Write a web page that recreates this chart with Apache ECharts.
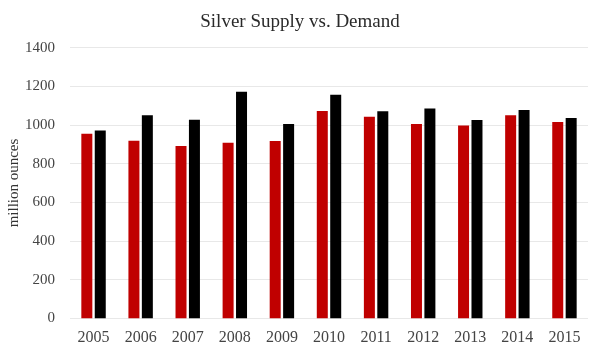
<!DOCTYPE html>
<html><head><meta charset="utf-8">
<script src="https://cdn.jsdelivr.net/npm/echarts@6/dist/echarts.min.js"></script>
<style>html,body{margin:0;padding:0;background:#fff}#c{width:600px;height:359px}</style>
</head><body><div id="c"></div>
<script>
const years = ['2005','2006','2007','2008','2009','2010','2011','2012','2013','2014','2015'];
const supply = [955, 919, 891, 908, 917, 1073, 1043, 1005, 998, 1050, 1016];
const demand = [972, 1050, 1027, 1172, 1005, 1157, 1071, 1086, 1026, 1078, 1036];
const yTicks = [0, 200, 400, 600, 800, 1000, 1200, 1400];
const yAxisTitle = 'million ounces';

const font = '"Liberation Serif", "DejaVu Serif", serif';
const chart = echarts.init(document.getElementById('c'));
chart.setOption({
  animation: false,
  backgroundColor: '#fff',
  title: {
    text: 'Silver Supply vs. Demand',
    left: 'center', top: 8,
    textStyle: { fontFamily: font, fontSize: 19, fontWeight: 'normal', color: '#2a2a2a' }
  },
  graphic: [{
    type: 'text', x: 14, y: 183, rotation: Math.PI / 2,
    style: { text: yAxisTitle, fontFamily: font, fontSize: 15, fill: '#333', align: 'center', verticalAlign: 'middle' }
  }],
  grid: { left: 70, right: 12, top: 47.7, bottom: 40.7, containLabel: false, outerBoundsMode: 'none' },
  xAxis: {
    type: 'category', data: years,
    axisLine: { show: false }, axisTick: { show: false },
    axisLabel: { fontFamily: font, fontSize: 16, color: '#444', margin: 11 }
  },
  yAxis: {
    type: 'value', min: yTicks[0], max: yTicks[yTicks.length - 1], interval: 200,
    axisLabel: { fontFamily: font, fontSize: 15, color: '#444', margin: 15, formatter: v => String(v) },
    splitLine: { lineStyle: { color: '#e8e8e8', width: 1 } },
    axisLine: { show: false }, axisTick: { show: false }
  },
  series: [
    { name: 'Supply', type: 'bar', data: supply, barWidth: 11, barGap: '22%', itemStyle: { color: '#c00000' } },
    { name: 'Demand', type: 'bar', data: demand, barWidth: 11, barGap: '22%', itemStyle: { color: '#000000' } }
  ]
});
</script></body></html>
